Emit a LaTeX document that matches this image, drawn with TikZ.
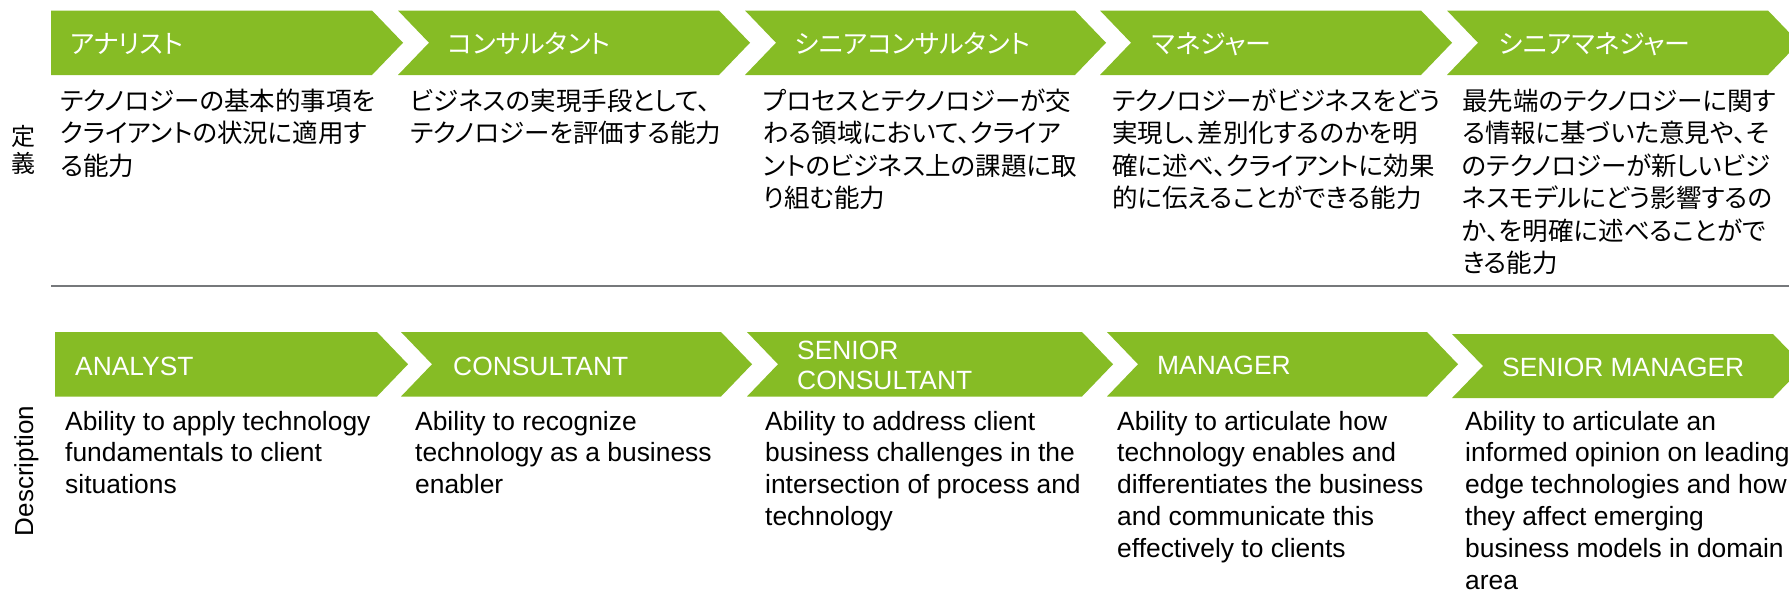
\documentclass[tikz,border=0pt]{standalone}
\usepackage{fontspec}
\setmainfont{Liberation Sans}
\newfontfamily\jp{Noto Sans CJK JP}[RawFeature=+palt]
\definecolor{dgreen}{RGB}{134,188,37}
\definecolor{rulegray}{RGB}{118,120,123}
\newcommand\chev[5]{%
  \pgfmathsetmacro\chevmid{(#3+#4)/2}%
  \fill[dgreen] (#1,#3) -- (#2,#3) -- (#2+31,\chevmid) -- (#2,#4) -- (#1,#4) -- (#1+#5,\chevmid) -- cycle;}
\tikzset{
  jphead/.style={font=\jp\fontsize{26}{30}\selectfont, text=white, anchor=base west, inner sep=0pt},
  jpbody/.style={font=\jp\fontsize{25.5}{32.5}\selectfont, text=black, anchor=base west, align=left, inner sep=0pt},
  enhead/.style={font=\fontsize{26.4}{30}\selectfont, text=white, anchor=base west, align=left, inner sep=0pt},
  enbody/.style={font=\fontsize{26.4}{31.8}\selectfont, text=black, anchor=base west, align=left, inner sep=0pt},
}
\begin{document}
\begin{tikzpicture}[x=1pt,y=-1pt]
\useasboundingbox (0,0) rectangle (1789,600);
\clip (0,0) rectangle (1789,600);
% top row chevrons
\chev{51}{372}{10.5}{75}{0}
\chev{398}{719}{10.5}{75}{31}
\chev{745}{1075}{10.5}{75}{31}
\chev{1100}{1421}{10.5}{75}{31}
\chev{1447}{1768}{10.5}{75}{31}
% bottom row chevrons
\chev{55}{377}{332}{396.5}{0}
\chev{401}{721}{332}{396.5}{31}
\chev{747}{1082}{332}{396.5}{31}
\chev{1107}{1427}{332}{396.5}{31}
\chev{1452}{1773}{334}{398}{31}
% separator rule
\coordinate (ruleL) at (51,286);
\coordinate (ruleR) at (1789,286);
\draw[rulegray, line width=2.3pt] (ruleL) -- (ruleR);
% side labels
\node[font=\jp\fontsize{24}{27}\selectfont, align=center, inner sep=0pt] (defn) at (23.5,150) {定\\義};
\node[font=\fontsize{26}{30}\selectfont, rotate=90, anchor=base, inner sep=0pt] (desc) at (33,471) {Description};
% top headers
\node[jphead] (h1) at (70,53) {アナリスト};
\node[jphead] (h2) at (448,53) {コンサルタント};
\node[jphead] (h3) at (795,53) {シニアコンサルタント};
\node[jphead] (h4) at (1152,53) {マネジャー};
\node[jphead] (h5) at (1499,53) {シニアマネジャー};
% top bodies (anchor = baseline of last line)
\node[jpbody] (j1) at (60,175) {テクノロジーの基本的事項を\\クライアントの状況に適用す\\る能力};
\node[jpbody] (j2) at (410,142.5) {ビジネスの実現手段として、\\テクノロジーを評価する能力};
\node[jpbody] (j3) at (763,207.5) {プロセスとテクノロジーが交\\わる領域において、クライア\\ントのビジネス上の課題に取\\り組む能力};
\node[jpbody] (j4) at (1112,207.5) {テクノロジーがビジネスをどう\\実現し、差別化するのかを明\\確に述べ、クライアントに効果\\的に伝えることができる能力};
\node[jpbody] (j5) at (1462,272.5) {最先端のテクノロジーに関す\\る情報に基づいた意見や、そ\\のテクノロジーが新しいビジ\\ネスモデルにどう影響するの\\か、を明確に述べることがで\\きる能力};
% bottom headers
\node[enhead] (e1) at (75,375) {ANALYST};
\node[enhead] (e2) at (453,375) {CONSULTANT};
\node[enhead] (e3) at (797,389) {SENIOR\\CONSULTANT};
\node[enhead] (e4) at (1157,374) {MANAGER};
\node[enhead] (e5) at (1502,376) {SENIOR MANAGER};
% bottom bodies (anchor = baseline of last line)
\node[enbody] (d1) at (65,493.6) {Ability to apply technology\\fundamentals to client\\situations};
\node[enbody] (d2) at (415,493.6) {Ability to recognize\\technology as a business\\enabler};
\node[enbody] (d3) at (765,525.4) {Ability to address client\\business challenges in the\\intersection of process and\\technology};
\node[enbody] (d4) at (1117,557.2) {Ability to articulate how\\technology enables and\\differentiates the business\\and communicate this\\effectively to clients};
\node[enbody] (d5) at (1465,589) {Ability to articulate an\\informed opinion on leading\\edge technologies and how\\they affect emerging\\business models in domain\\area};
\end{tikzpicture}
\end{document}
